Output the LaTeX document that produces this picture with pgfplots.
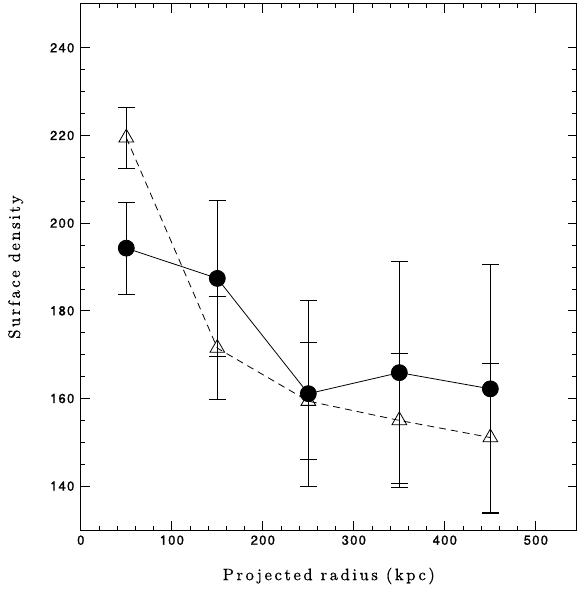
\documentclass[border=0pt]{standalone}
\usepackage{fontspec}
\setsansfont{TeX Gyre Heros}
\newfontfamily\labfont{lmroman10-regular}[Extension=.otf, LetterSpace=16, FakeBold=0.8]
\newfontfamily\tickfont{TeX Gyre Heros}[LetterSpace=10, FakeBold=1]
\usepackage{pgfplots}
\pgfplotsset{compat=1.18}
\begin{document}
\begin{tikzpicture}
\begin{axis}[
  scale only axis,
  width=496bp, height=526bp,
  xmin=0, xmax=545, ymin=130, ymax=250,
  xtick={0,100,...,500}, minor x tick num=4,
  ytick={140,160,...,240}, minor y tick num=3,
  tick align=inside, tick pos=both,
  major tick length=9bp, minor tick length=4.5bp,
  every tick/.style={black, line width=0.7bp},
  axis line style={line width=1bp},
  /pgf/number format/assume math mode=true,
  tick label style={font=\tickfont\fontsize{13}{15}\selectfont},
  xticklabel style={yshift=-2bp},
  yticklabel style={xshift=-3bp},
  xlabel={\labfont\fontsize{16.5}{19}\selectfont Projected radius (kpc)},
  ylabel={\labfont\fontsize{16.5}{19}\selectfont Surface density},
  xlabel style={anchor=center, at={(axis description cs:0.5,0)}, yshift=-46bp},
  ylabel style={anchor=center, at={(axis description cs:0,0.5)}, yshift=65bp},
]
\addplot[black, line width=0.8bp, mark=*, mark size=8bp, mark options={solid, fill=black},
  error bars/.cd, y dir=both, y explicit,
  error bar style={line width=0.8bp, solid},
  error mark options={rotate=90, mark size=8.5bp, line width=0.8bp, solid}]
coordinates {
(50,194.3) +- (0,10.5)
(150,187.4) +- (0,17.8)
(250,161.1) +- (0,21.2)
(350,165.9) +- (0,25.3)
(450,162.2) +- (0,28.5)
};
\addplot[black, line width=0.8bp, dash pattern=on 7bp off 5bp, mark=triangle, mark size=8.5bp, mark options={solid, line width=0.8bp},
  error bars/.cd, y dir=both, y explicit,
  error bar style={line width=0.8bp, solid},
  error mark options={rotate=90, mark size=8.5bp, line width=0.8bp, solid}]
coordinates {
(50,219.5) +- (0,6.9)
(150,171.5) +- (0,11.8)
(250,159.4) +- (0,13.3)
(350,155.0) +- (0,15.3)
(450,151.1) +- (0,17.0)
};
\end{axis}
\path ([shift={(-80.8bp,-62bp)}]current axis.south west) rectangle ([shift={(1bp,4bp)}]current axis.north east);
\end{tikzpicture}
\end{document}
